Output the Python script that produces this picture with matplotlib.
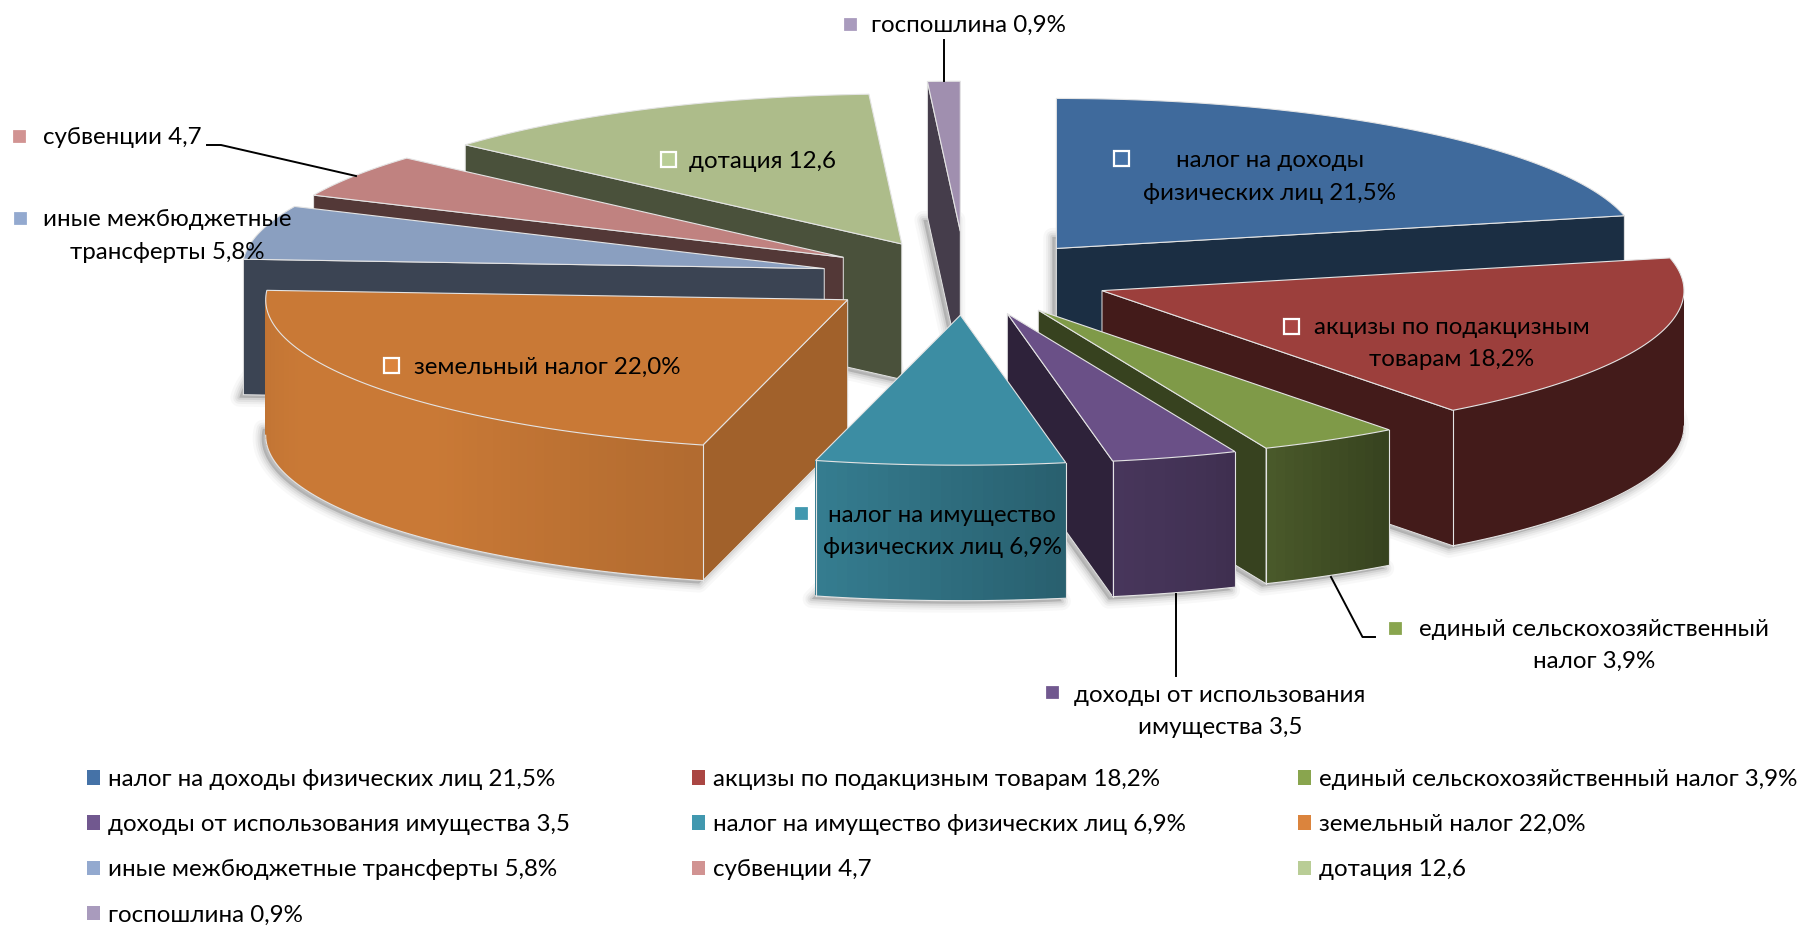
import numpy as np
import matplotlib
matplotlib.use("Agg")
import matplotlib.pyplot as plt
from matplotlib.legend import Legend
from matplotlib.patches import Polygon, Patch, Rectangle
from matplotlib.colors import to_rgb

plt.rcParams['font.family'] = ['Lato', 'DejaVu Sans']

# ---- data ----
categories = ["налог на доходы физических лиц", "акцизы по подакцизным товарам",
              "единый сельскохозяйственный налог", "доходы от использования имущества",
              "налог на имущество физических лиц", "земельный налог",
              "иные межбюджетные трансферты", "субвенции", "дотация", "госпошлина"]
values = [21.5, 18.2, 3.9, 3.5, 6.9, 22.0, 5.8, 4.7, 12.6, 0.9]
value_texts = ["21,5%", "18,2%", "3,9%", "3,5", "6,9%", "22,0%", "5,8%", "4,7", "12,6", "0,9%"]
explode = [0.25, 0.25, 0.25, 0.25, 0.25, 0.25, 0.25, 0.25, 0.25, 0.31]
top_colors = ['#3F6A9C', '#9C3F3C', '#7F9A48', '#6A5087', '#3C8DA3',
              '#C97936', '#8A9FC0', '#C08280', '#ADBC8A', '#A08FAF']
key_colors = ['#4572A7', '#AA4643', '#89A54E', '#71588F', '#4198AF',
              '#DB843D', '#93A9CF', '#D19392', '#B9CD96', '#A99BBD']

# ---- projection of the tilted pie ----
CX, CY, RX, RY, DEPTH = 965.4, 277.7, 582.0, 150.0, 135.5
FS = 17.4

fig = plt.figure(figsize=(18.07, 9.27), dpi=100)
ax = fig.add_axes([0, 0, 1, 1])
ax.set_xlim(0, 1807)
ax.set_ylim(927, 0)
ax.axis('off')

shade_angle = [90, 143, 150, 160, 170, 194, 225, 250, 273]
shade_level = [.43, .43, .50, .62, .68, .88, 1.0, 1.0, .95]


def shaded(color, k):
    return tuple(min(1, c * k) for c in to_rgb(color))


def point(theta, r, z, mid, e):
    x = CX + RX * (r * np.sin(theta) + e * np.sin(mid))
    y = CY - RY * (r * np.cos(theta) + e * np.cos(mid)) + z
    return np.column_stack([x, y])


edges = np.cumsum([0] + values) / sum(values) * 2 * np.pi
slices = []
for i in range(len(values)):
    t0, t1 = edges[i], edges[i + 1]
    slices.append((np.cos((t0 + t1) / 2), i, t0, t1))
slices.sort(key=lambda s: -s[0])

EDGE = '#e4e4e4'
for order, (_, i, t0, t1) in enumerate(slices):
    mid, e = (t0 + t1) / 2, explode[i]
    z = order * 2 + 2
    arc = np.linspace(t0, t1, max(3, int(np.degrees(t1 - t0))))

    def face(depth):
        return np.vstack([point(np.array([t0]), 0.0, depth, mid, e), point(arc, 1.0, depth, mid, e)])

    # soft shadow of the underside
    shadow = face(DEPTH) + np.array([-4, 3])
    for lw, alpha in zip([13, 9, 6, 3], [.04, .06, .08, .11]):
        ax.add_patch(Polygon(shadow, closed=True, fc=(.35, .35, .35, alpha),
                             ec=(.35, .35, .35, alpha), lw=lw, joinstyle='round', zorder=z))

    # radial walls
    for t, visible, east in ((t0, np.sin(t0) < 0, -np.cos(t0)), (t1, np.sin(t1) > 0, np.cos(t1))):
        if not visible:
            continue
        k = np.interp(east, [.3, .97], [.43, .8])
        a = point(np.array([t]), 1.0, 0, mid, e)[0]
        c = point(np.array([t]), 0.0, 0, mid, e)[0]
        quad = [a, c, c + [0, DEPTH], a + [0, DEPTH]]
        ax.add_patch(Polygon(quad, closed=True, fc=shaded(top_colors[i], k), ec=EDGE, lw=.7, zorder=z + .2))

    # outer wall with a gradient
    lo, hi = max(t0, np.pi / 2), min(t1, 1.5 * np.pi)
    if hi > lo:
        ts = np.linspace(lo, hi, max(2, int(np.degrees(hi - lo)) + 1))
        rim = point(ts, 1.0, 0, mid, e)
        mean_k = np.interp(np.degrees((lo + hi) / 2), shade_angle, shade_level)
        ax.add_patch(Polygon(np.vstack([rim, rim[::-1] + [0, DEPTH]]), closed=True,
                             fc=shaded(top_colors[i], mean_k), ec='none', zorder=z + .25))
        for n, (s0, s1) in enumerate(zip(ts[:-1], ts[1:])):
            k = np.interp(np.degrees((s0 + s1) / 2), shade_angle, shade_level)
            p0, p1 = rim[n], rim[n + 1]
            ax.add_patch(Polygon([p0, p1, p1 + [0, DEPTH - 1], p0 + [0, DEPTH - 1]], closed=True,
                                 fc=shaded(top_colors[i], k), ec='none', antialiased=False, zorder=z + .3))
        ax.plot(rim[:, 0], rim[:, 1] + DEPTH, color=EDGE, lw=.8, zorder=z + .4)
        for t, p in ((lo, rim[0]), (hi, rim[-1])):
            if t in (t0, t1):
                ax.plot([p[0], p[0]], [p[1], p[1] + DEPTH], color=EDGE, lw=.8, zorder=z + .4)

    # top
    ax.add_patch(Polygon(face(0), closed=True, fc=top_colors[i], ec=EDGE, lw=.8, zorder=z + .5))

# ---- leader lines ----
LZ = 40
for xs, ys in (([207, 221, 356], [145, 145, 176]),
               ([944, 944], [40, 81]),
               ([1331, 1362.5, 1375], [577, 637, 637]),
               ([1176, 1176], [594, 676])):
    ax.plot(xs, ys, color='black', lw=1.4, zorder=LZ)

# ---- data labels: index, key-square position, text lines (x, y, text) ----
labels = [
    (0, (1122, 158), [(1270, 160, "налог на доходы"), (1270, 193, f"физических лиц {value_texts[0]}")]),
    (1, (1292, 326), [(1452, 328, "акцизы по подакцизным"), (1452, 360, f"товарам {value_texts[1]}")]),
    (2, (1396, 628), [(1594, 630, "единый сельскохозяйственный"), (1594, 661, f"налог {value_texts[2]}")]),
    (3, (1053, 692), [(1220, 695, "доходы от использования"), (1220, 727, f"имущества {value_texts[3]}")]),
    (4, (802, 513), [(942, 516, "налог на имущество"), (942, 548, f"физических лиц {value_texts[4]}")]),
    (5, (392, 365), [(547, 367, f"земельный налог {value_texts[5]}")]),
    (6, (21, 218), [(167, 219, "иные межбюджетные"), (167, 252, f"трансферты {value_texts[6]}")]),
    (7, (20, 136), [(122, 137, f"субвенции {value_texts[7]}")]),
    (8, (669, 159), [(763, 161, f"дотация {value_texts[8]}")]),
    (9, (851, 24), [(968, 25, f"госпошлина {value_texts[9]}")]),
]
for i, (mx, my), lines in labels:
    ax.add_patch(Rectangle((mx - 7.5, my - 7.5), 15, 15, fc=key_colors[i], ec='white', lw=1.6, zorder=LZ + 1))
    for x, y, s in lines:
        ax.text(x, y, s, fontsize=FS, ha='center', va='center', color='black', zorder=LZ + 2)

# ---- legend: three columns, read row by row ----
legend_x = [87, 692, 1298]
for col, x in enumerate(legend_x):
    idx = range(col, len(values), 3)
    handles = [Patch(fc=key_colors[j], ec='none') for j in idx]
    names = [f"{categories[j]} {value_texts[j]}" for j in idx]
    leg = Legend(ax, handles, names, loc='upper left', bbox_to_anchor=(x, 769), bbox_transform=ax.transData,
                 frameon=False, fontsize=FS, borderpad=0, borderaxespad=0, handlelength=.54, handleheight=.54,
                 handletextpad=.33, labelspacing=1.0)
    leg.set_zorder(LZ)
    ax.add_artist(leg)

fig.savefig('out.png', dpi=100)
